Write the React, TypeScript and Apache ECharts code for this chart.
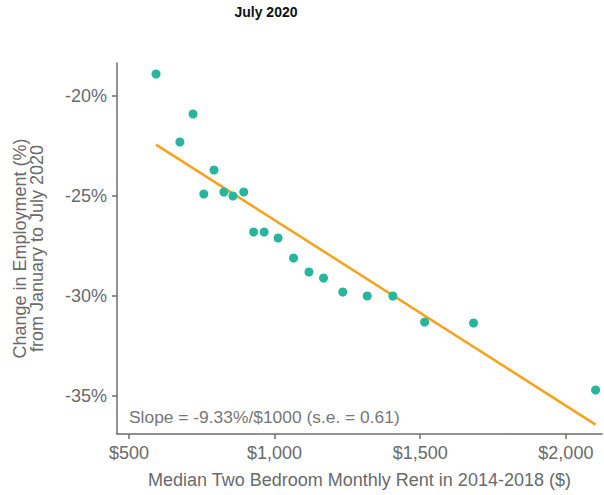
import React, { useEffect, useRef } from "react";
import * as echarts from "echarts";

const rent = [593, 675, 720, 757, 792, 826, 857, 894, 928, 964, 1012, 1065, 1118, 1168, 1234, 1318, 1406, 1515, 1683, 2102];
const employmentChange = [-18.9, -22.3, -20.9, -24.9, -23.7, -24.8, -25.0, -24.8, -26.8, -26.8, -27.1, -28.1, -28.8, -29.1, -29.8, -30.0, -30.0, -31.3, -31.35, -34.7];
const fitX = [593, 2102];
const fitY = [-22.43, -36.43];
const xTicks = [500, 1000, 1500, 2000];
const yTicks = [-35, -30, -25, -20];
const titleText = "July 2020";
const slopeText = "Slope = -9.33%/$1000 (s.e. = 0.61)";

const FONT = "'Liberation Sans', Arial, Helvetica, sans-serif";

export default function App() {
  const ref = useRef<HTMLDivElement>(null);
  useEffect(() => {
    if (!ref.current) return;
    const chart = echarts.init(ref.current, undefined, { renderer: "svg" });
    const axisColor = "#6e6e6e";
    const textColor = "#6a6a6a";
    chart.setOption({
      animation: false,
      backgroundColor: "#ffffff",
      textStyle: { fontFamily: FONT },
      grid: { left: 117, right: 2, top: 63, bottom: 61, containLabel: false },
      xAxis: {
        type: "value",
        min: 459,
        max: 2124,
        splitLine: { show: false },
        axisLine: { show: true, lineStyle: { color: axisColor, width: 1.5 } },
        axisTick: { show: true, length: 5, customValues: xTicks, lineStyle: { color: axisColor, width: 1.5 } },
        axisLabel: {
          customValues: xTicks,
          margin: 10,
          fontSize: 18,
          color: textColor,
          fontFamily: FONT,
          formatter: (v: number) => "$" + v.toLocaleString("en-US"),
        },
        name: "Median Two Bedroom Monthly Rent in 2014-2018 ($)",
        nameLocation: "middle",
        nameGap: 37,
        nameTextStyle: { fontSize: 18, color: textColor, fontFamily: FONT },
      },
      yAxis: {
        type: "value",
        min: -36.9,
        max: -18.35,
        splitLine: { show: false },
        axisLine: { show: true, lineStyle: { color: axisColor, width: 1.5 } },
        axisTick: { show: true, length: 5, customValues: yTicks, lineStyle: { color: axisColor, width: 1.5 } },
        axisLabel: {
          customValues: yTicks,
          margin: 10,
          fontSize: 18,
          color: textColor,
          fontFamily: FONT,
          formatter: (v: number) => v + "%",
        },
        name: "Change in Employment (%)\nfrom January to July 2020",
        nameLocation: "middle",
        nameRotate: 90,
        nameGap: 72,
        nameTextStyle: { fontSize: 18, color: textColor, fontFamily: FONT, lineHeight: 17 },
      },
      graphic: [
        {
          type: "text",
          x: 266,
          y: 12,
          style: {
            text: titleText,
            fontSize: 14,
            fontWeight: "bold",
            fill: "#111",
            fontFamily: FONT,
            align: "center",
            verticalAlign: "middle",
          },
        },
        {
          type: "text",
          x: 129,
          y: 417,
          style: {
            text: slopeText,
            fontSize: 17.4,
            fill: "#777",
            fontFamily: FONT,
            align: "left",
            verticalAlign: "middle",
          },
        },
      ],
      series: [
        {
          type: "line",
          data: fitX.map((x, i) => [x, fitY[i]]),
          showSymbol: false,
          symbol: "none",
          lineStyle: { color: "#f8a11c", width: 2.5 },
          z: 2,
        },
        {
          type: "scatter",
          data: rent.map((x, i) => [x, employmentChange[i]]),
          symbolSize: 9,
          itemStyle: { color: "#27b59d", opacity: 1 },
          z: 3,
        },
      ],
    });
    return () => chart.dispose();
  }, []);
  return <div ref={ref} style={{ width: 604, height: 495, position: "absolute", left: 0, top: 0 }} />;
}
